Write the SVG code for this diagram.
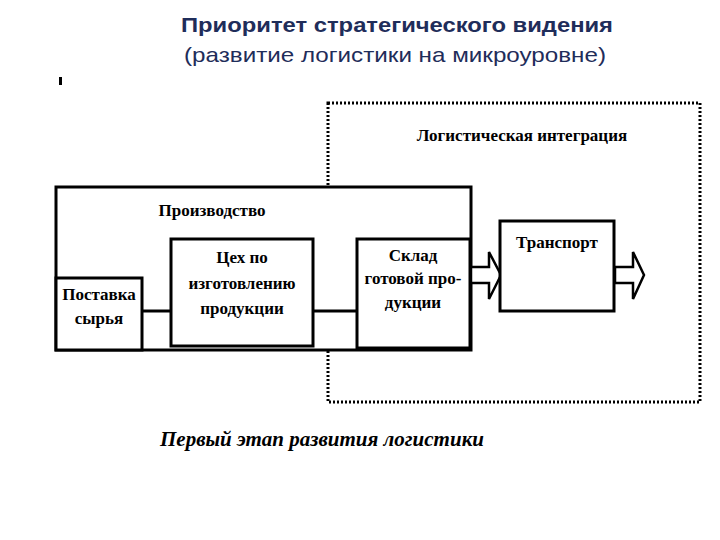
<svg xmlns="http://www.w3.org/2000/svg" width="720" height="540" viewBox="0 0 720 540">
<style>
.b{fill:#fff;stroke:#000;stroke-width:3}
.t{font-family:"Liberation Serif",serif;font-size:17px;fill:#000;text-anchor:middle;font-weight:bold}
.h{font-family:"Liberation Sans",sans-serif;font-size:21px;fill:#1f2d5a;text-anchor:middle}
.ar{fill:#fff;stroke:#000;stroke-width:2.5;stroke-linejoin:miter}
</style>
<rect width="720" height="540" fill="#fff"/>
<text class="h" x="397" y="32" font-weight="bold" textLength="432" lengthAdjust="spacingAndGlyphs">Приоритет стратегического видения</text>
<text class="h" x="395" y="62" textLength="422" lengthAdjust="spacingAndGlyphs">(развитие логистики на микроуровне)</text>
<rect x="59" y="77" width="3" height="8" fill="#000"/>
<g id="integration">
<rect x="328" y="103" width="372" height="299" fill="none" stroke="#000" stroke-width="3" stroke-dasharray="2,2"/>
<text class="t" x="522" y="141" font-weight="normal" font-size="18">Логистическая интеграция</text>
</g>
<g id="production">
<rect class="b" x="56" y="187" width="415" height="163" fill="none"/>
<text class="t" x="212" y="216">Производство</text>
</g>
<g id="connectors">
<line x1="142" y1="311" x2="171" y2="311" stroke="#000" stroke-width="3"/>
<line x1="313" y1="311" x2="357" y2="311" stroke="#000" stroke-width="3"/>
<path class="ar" d="M471,267 H489 V252 L501,275 L489,299 V283 H471 Z"/>
<path class="ar" d="M615,267 H633 V252 L644,275 L633,299 V283 H615 Z"/>
</g>
<g id="supply">
<rect class="b" x="56" y="278" width="86" height="72"/>
<text class="t" x="99" y="300">Поставка</text>
<text class="t" x="99" y="324">сырья</text>
</g>
<g id="workshop">
<rect class="b" x="171" y="239" width="142" height="107"/>
<text class="t" x="242" y="263">Цех по</text>
<text class="t" x="242" y="289">изготовлению</text>
<text class="t" x="242" y="314">продукции</text>
</g>
<g id="warehouse">
<rect class="b" x="357" y="239" width="113" height="109"/>
<text class="t" x="413" y="261">Склад</text>
<text class="t" x="413" y="284">готовой про-</text>
<text class="t" x="413" y="308">дукции</text>
</g>
<g id="transport">
<rect class="b" x="500" y="221" width="114" height="90"/>
<text class="t" x="557" y="248" font-weight="normal" font-size="18">Транспорт</text>
</g>
<text x="322" y="446" font-family="Liberation Serif,serif" font-size="21" font-weight="bold" font-style="italic" text-anchor="middle">Первый этап развития логистики</text>
</svg>
